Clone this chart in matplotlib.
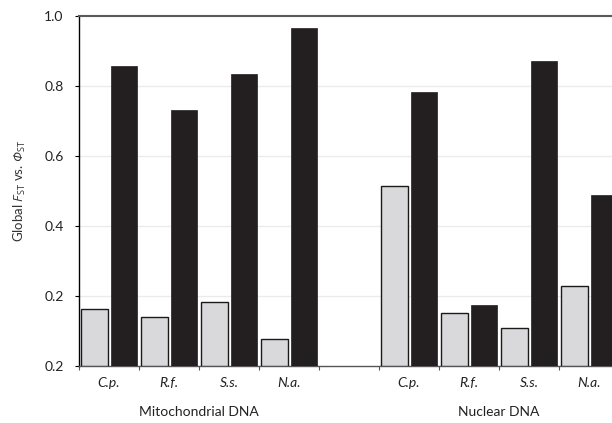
import numpy as np
import matplotlib
matplotlib.use("Agg")
import matplotlib.pyplot as plt

plt.rcParams['font.family'] = ['Lato', 'DejaVu Sans']
plt.rcParams['mathtext.fontset'] = 'custom'
plt.rcParams['mathtext.rm'] = 'Open Sans'
plt.rcParams['mathtext.it'] = 'Open Sans:italic'
# greek capitals are forced upright in \mathit, so borrow the sf slot
plt.rcParams['mathtext.sf'] = 'Open Sans:italic'

# data (blank slot between the two groups)
species = ['C.p.', 'R.f.', 'S.s.', 'N.a.', '', 'C.p.', 'R.f.', 'S.s.', 'N.a.']
fst = [0.162, 0.140, 0.184, 0.078, np.nan, 0.514, 0.151, 0.109, 0.228]
phist = [0.857, 0.731, 0.834, 0.964, np.nan, 0.781, 0.173, 0.872, 0.489]
groups = ['Mitochondrial DNA', 'Nuclear DNA']
group_span = [(0, 4), (5, 9)]
ytick_vals = [0.0, 0.2, 0.4, 0.6, 0.8, 1.0]
ytick_labels = ['0.2', '0.2', '0.4', '0.6', '0.8', '1.0']

fig = plt.figure(figsize=(6.12, 4.23), dpi=100)
ax = fig.add_axes([79/612, 1-366/423, 540/612, (366-15.7)/423])

x = np.arange(len(species))
ax.bar(x + 0.258, fst, width=0.45, color='#d9d9db', edgecolor='#1a1a1a',
       linewidth=1.0, zorder=3)
ax.bar(x + 0.75, phist, width=0.435, color='#231f20', edgecolor='#231f20',
       linewidth=0.5, zorder=3)

ax.set_xlim(0, len(species))
ax.set_ylim(0, 1.0)

# ticks at the boundaries, labels at the centres
ax.set_xticks(np.arange(len(species) + 1))
ax.set_xticklabels([])
ax.set_xticks(x + 0.5, minor=True)
ax.set_xticklabels(species, minor=True, style='italic', fontsize=10,
                   color='#222222')
ax.tick_params(axis='x', which='major', length=3, width=0.8, color='#555555',
               direction='out')
ax.tick_params(axis='x', which='minor', length=0, pad=8)

ax.set_yticks(ytick_vals)
ax.set_yticklabels(ytick_labels, fontsize=10, color='#222222')
ax.tick_params(axis='y', length=3, width=0.8, direction='out', pad=8)

for v in ytick_vals[1:-1]:
    ax.axhline(v, color='#ebebeb', linewidth=1.0, zorder=1)

ax.spines['left'].set_color('black')
ax.spines['left'].set_linewidth(1.0)
ax.spines['top'].set_color('#595959')
ax.spines['top'].set_linewidth(1.5)
ax.spines['bottom'].set_color('#555555')
ax.spines['bottom'].set_linewidth(1.0)
ax.spines['right'].set_visible(False)

ax.set_ylabel(r'Global $\mathit{F}_{\mathrm{ST}}$ vs. $\mathsf{Φ}_{\mathrm{ST}}$',
              fontsize=9.5, color='#333333', labelpad=12)

for name, (a, b) in zip(groups, group_span):
    ax.text((a + b) / 2, -0.13, name, ha='center', va='center', fontsize=10,
            color='#222222', transform=ax.get_xaxis_transform())

fig.savefig('out.png', dpi=100)
